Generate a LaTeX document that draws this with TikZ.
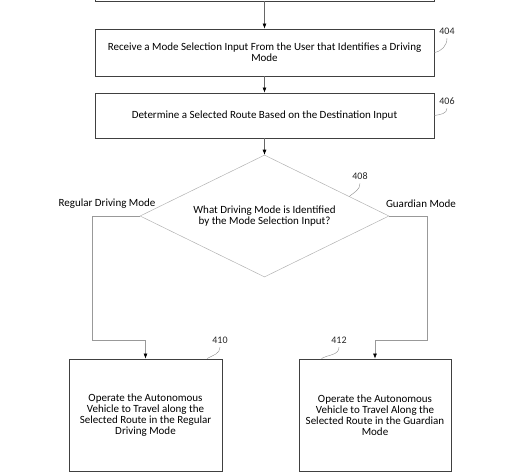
\documentclass[tikz,border=0pt]{standalone}
\usepackage{fontspec}
\setmainfont{Carlito}
\usetikzlibrary{shapes.geometric,arrows.meta,calc}

\begin{document}
\begin{tikzpicture}[x=1pt,y=1pt,
  box/.style={draw=black!75,line width=0.9pt,align=center,inner sep=2pt},
  flow/.style={draw=black!60,line width=0.6pt,-{Latex[length=5pt,width=4pt,color=black]}},
  branch/.style={draw=black!40,line width=0.6pt,-{Latex[length=5pt,width=4pt,color=black]}},
  leader/.style={draw=black!45,line width=0.4pt},
  num/.style={font=\fontsize{10}{11}\selectfont,text=black!85}]
\fontsize{11}{11}\selectfont
\useasboundingbox (0,0) rectangle (520,-474);
\node[box,minimum width=339pt,minimum height=42pt] (0) at (264.5,20) {};
\node[box,minimum width=339pt,minimum height=47pt] (1) at (264.5,-52.5) {Receive a Mode Selection Input From the User that Identifies a Driving\\Mode};
\node[box,minimum width=339pt,minimum height=45pt] (2) at (264.5,-115.5) {Determine a Selected Route Based on the Destination Input};
\node[draw=black!30,line width=0.5pt,diamond,aspect=2,minimum width=249pt,minimum height=122pt,inner sep=0pt,align=center] (3) at (264.5,-216) {What Driving Mode is Identified\\by the Mode Selection Input?};
\node[box,minimum width=153pt,minimum height=112pt] (4) at (145.5,-415) {Operate the Autonomous\\Vehicle to Travel along the\\Selected Route in the Regular\\Driving Mode};
\node[box,minimum width=152pt,minimum height=112pt] (5) at (375,-415) {Operate the Autonomous\\Vehicle to Travel Along the\\Selected Route in the Guardian\\Mode};
\node (reg) at (107,-204) {Regular Driving Mode};
\node (grd) at (421,-204) {Guardian Mode};
\coordinate (L) at (92,-340);
\coordinate (R) at (427,-340);
\path[flow] (0) -- (1);
\path[flow] (1) -- (2);
\path[flow] (2) -- (3);
\path[branch] (3.west) -| (L) -| (4.north);
\path[branch] (3.east) -| (R) -| (5.north);
\node[num] (n404) at (447,-31) {404};
\node[num] (n406) at (447,-101) {406};
\node[num] (n408) at (360,-176) {408};
\node[num] (n410) at (220,-340) {410};
\node[num] (n412) at (339,-340) {412};
\path[leader] (n404.south) to[out=-90,in=10] (1.east);
\path[leader] (n406.south) to[out=-90,in=10] (2.east);
\path[leader] (n408.south) to[out=-90,in=40] ($(3.north)!0.68!(3.east)$);
\path[leader] (n410.south) to[out=-90,in=30] ($(4.north east)!0.1!(4.north west)$);
\path[leader] (n412.south) to[out=-90,in=30] ($(5.north west)!0.15!(5.north east)$);
\end{tikzpicture}
\end{document}
